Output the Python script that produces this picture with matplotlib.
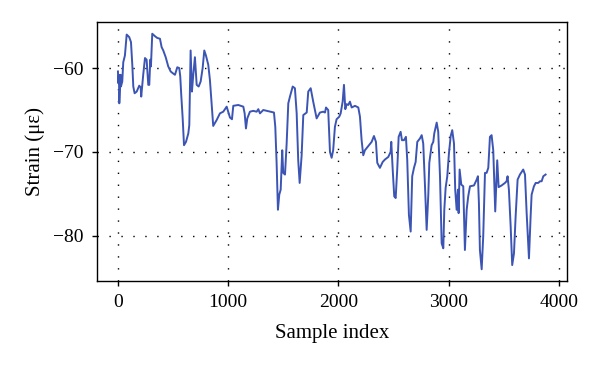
import numpy as np
import matplotlib.pyplot as plt

plt.rcParams['font.family'] = ['Liberation Serif', 'DejaVu Serif']

# sample index and strain values
sample_idx = [
    0, 3, 9, 12, 24, 27, 39, 48, 63, 79, 102, 118, 130, 139, 151, 170, 193, 206, 211, 229,
    245, 260, 275, 284, 293, 299, 311, 336, 356, 381, 396, 411, 433, 456, 478, 496, 517, 538, 556, 565,
    574, 587, 599, 617, 638, 647, 659, 671, 683, 698, 714, 732, 750, 768, 783, 798, 819, 834, 864, 895,
    925, 955, 986, 1016, 1034, 1046, 1091, 1137, 1149, 1161, 1173, 1197, 1227, 1258, 1273, 1288, 1318, 1349, 1379, 1415,
    1427, 1439, 1451, 1463, 1476, 1490, 1499, 1515, 1530, 1545, 1560, 1585, 1605, 1621, 1635, 1648, 1666, 1681, 1712, 1726,
    1748, 1771, 1802, 1832, 1862, 1878, 1887, 1907, 1923, 1938, 1952, 1968, 1983, 2007, 2020, 2038, 2050, 2062, 2074, 2089,
    2104, 2120, 2150, 2180, 2195, 2210, 2225, 2240, 2270, 2301, 2322, 2340, 2352, 2376, 2401, 2422, 2452, 2473, 2479, 2492,
    2506, 2519, 2533, 2546, 2564, 2576, 2594, 2612, 2624, 2639, 2655, 2669, 2685, 2700, 2715, 2739, 2755, 2769, 2785, 2800,
    2815, 2824, 2845, 2860, 2869, 2891, 2905, 2921, 2936, 2951, 2960, 2972, 2987, 3002, 3018, 3032, 3048, 3059, 3072, 3084,
    3090, 3099, 3114, 3132, 3147, 3163, 3177, 3193, 3229, 3254, 3265, 3274, 3283, 3299, 3313, 3329, 3344, 3359, 3374, 3389,
    3404, 3422, 3440, 3453, 3480, 3510, 3525, 3534, 3546, 3562, 3576, 3592, 3607, 3625, 3646, 3676, 3692, 3707, 3728, 3743,
    3752, 3773, 3789, 3812, 3828, 3843, 3858, 3879,
]
strain = [
    -60.4, -61.8, -60.8, -64.2, -60.8, -62.2, -61.6, -59.3, -58.5, -56.0, -56.3, -56.9, -59.6, -62.2, -63.0, -62.8, -62.1, -62.3, -63.4, -60.8,
    -58.8, -59.0, -62.0, -62.0, -59.0, -59.8, -55.9, -56.2, -56.4, -56.5, -57.5, -57.9, -58.7, -59.8, -60.4, -60.6, -60.8, -59.9, -60.0, -61.0,
    -63.2, -66.0, -69.2, -68.8, -67.8, -66.8, -57.9, -62.8, -60.8, -58.7, -62.0, -62.2, -61.6, -60.0, -57.9, -58.5, -59.6, -61.4, -66.9, -66.2,
    -65.4, -65.2, -64.6, -65.9, -66.1, -64.5, -64.4, -64.6, -65.4, -67.2, -66.0, -65.2, -65.1, -65.2, -64.9, -65.4, -65.0, -65.1, -65.2, -65.3,
    -67.0, -71.3, -76.9, -75.1, -74.5, -69.8, -72.5, -72.7, -69.0, -64.2, -63.4, -62.2, -62.4, -65.4, -71.0, -73.7, -70.4, -65.6, -65.3, -62.8,
    -62.4, -64.0, -66.0, -65.3, -65.2, -65.3, -64.7, -65.0, -70.0, -70.7, -69.8, -67.0, -66.1, -65.8, -65.4, -64.0, -62.0, -64.9, -64.3, -64.4,
    -64.0, -64.7, -64.5, -64.7, -65.8, -68.6, -70.4, -69.8, -69.3, -68.8, -68.1, -68.8, -71.3, -71.9, -71.2, -70.9, -70.6, -70.0, -68.8, -72.1,
    -75.3, -75.5, -72.1, -68.2, -67.6, -68.6, -68.6, -68.2, -71.0, -77.5, -79.5, -72.9, -71.9, -71.2, -68.8, -68.4, -68.0, -69.0, -74.1, -79.3,
    -75.1, -71.3, -69.2, -68.8, -67.8, -66.5, -67.6, -72.9, -80.9, -81.5, -76.9, -74.3, -72.9, -70.2, -68.1, -67.4, -69.0, -74.5, -76.9, -74.5,
    -77.3, -72.1, -73.9, -74.1, -81.7, -76.9, -75.3, -74.1, -74.0, -73.3, -72.9, -76.1, -81.7, -84.0, -80.1, -72.5, -72.5, -71.9, -68.2, -68.0,
    -69.8, -77.1, -71.0, -74.2, -74.0, -73.7, -73.5, -72.9, -74.5, -78.9, -83.5, -82.1, -77.7, -73.3, -72.7, -72.1, -72.7, -77.3, -82.7, -77.7,
    -75.1, -74.1, -73.7, -73.7, -73.5, -73.5, -72.9, -72.7,
]

x_ticks = [0, 1000, 2000, 3000, 4000]
y_ticks = [-80, -70, -60]

fig = plt.figure(figsize=(6, 3.66), dpi=100)
ax = fig.add_axes([0.1617, 0.2322, 0.7833, 0.7077])

ax.plot(sample_idx, strain, color='#3c55b4', lw=1.4)

ax.set_xlim(-190, 4073)
ax.set_ylim(-85.4, -54.5)
ax.set_xticks(x_ticks)
ax.set_yticks(y_ticks)
ax.set_yticklabels(['\u221280', '\u221270', '\u221260'])

ax.grid(True, color='black', linestyle=(0, (1, 7.6)), linewidth=1.0)
ax.tick_params(direction='out', length=3.5, width=1, labelsize=14, color='black')
ax.tick_params(axis='x', pad=6)
ax.tick_params(axis='y', pad=6)
for s in ax.spines.values():
    s.set_linewidth(1.0)

ax.set_xlabel('Sample index', fontsize=15, labelpad=9)
ax.set_ylabel('Strain (\u03bc\u03b5)', fontsize=15, labelpad=6)

fig.savefig('out.png', dpi=100)
